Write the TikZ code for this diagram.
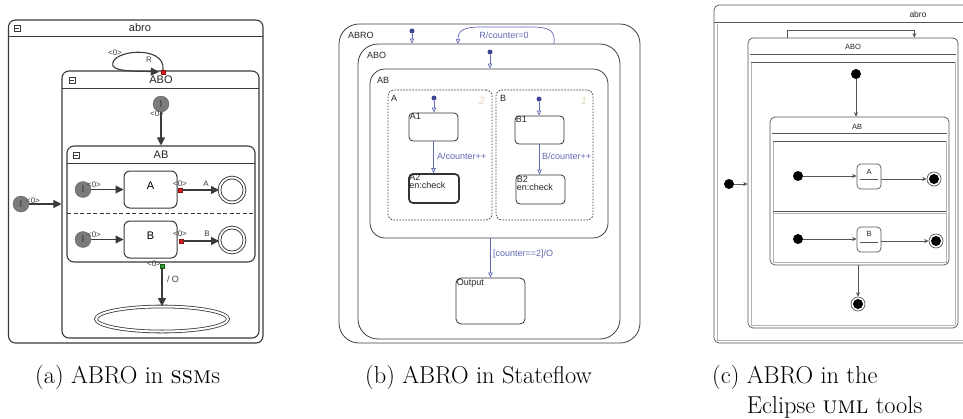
\documentclass[tikz,border=0pt]{standalone}
\usepackage{fontspec}
\newfontfamily\diagfont{Liberation Sans}
\usetikzlibrary{arrows.meta,fit,calc,shapes.geometric}

\definecolor{ssmline}{HTML}{3A3A3A}
\definecolor{ssmgray}{HTML}{7B7B7B}
\definecolor{ssmred}{HTML}{E41B1B}
\definecolor{ssmgreen}{HTML}{2CA02C}
\definecolor{sfline}{HTML}{404040}
\definecolor{sfblue}{HTML}{6169B3}
\definecolor{sfdotc}{HTML}{3F4595}
\definecolor{sfnum}{HTML}{E8DCC6}
\definecolor{umlline}{HTML}{555555}
\definecolor{umldot}{HTML}{B4B4B4}

\newcommand{\fsz}[1]{\fontsize{#1}{#1}\selectfont}

\tikzset{
  % SSM chart
  ssmbox/.style={draw=ssmline, line width=1.1pt, rounded corners=7pt, inner sep=0pt, fit={#1}},
  ssmrule/.style={draw=ssmline, line width=1pt},
  ssmtitle/.style={font=\diagfont\fsz{11}, text=black!85, inner sep=0pt},
  ssmsmall/.style={font=\diagfont\fsz{8}, text=black!75, inner sep=0pt},
  minusbox/.style={draw=ssmline, line width=0.5pt, minimum size=5.5pt, inner sep=0pt,
    path picture={\draw[line width=0.5pt] ([xshift=1.2pt]path picture bounding box.west) -- ([xshift=-1.2pt]path picture bounding box.east);}},
  ssminit/.style={circle, fill=ssmgray, draw=ssmgray!70!black, line width=0.3pt, minimum size=16pt, inner sep=0pt, font=\diagfont\fsz{10}, text=black!80},
  ssmstate/.style={draw=ssmline, line width=1pt, rounded corners=6pt, inner sep=0pt, fit={#1}, font=\diagfont\fsz{11}},
  ssmfinal/.style={circle, draw=ssmline, double, double distance=1.8pt, line width=0.9pt, minimum size=25pt, inner sep=0pt},
  ssmarr/.style={draw=ssmline, line width=1.1pt, -{Triangle[length=8pt,width=8pt]}},
  ssmport/.style={rectangle, draw=#1!60!black, fill=#1, line width=0.3pt, minimum size=4pt, inner sep=0pt},
  % Stateflow chart
  sfbox/.style={draw=sfline, line width=0.8pt, inner sep=0pt, fit={#1}},
  sfregion/.style={draw=black!80, line width=0.7pt, dash pattern=on 1.6pt off 1.4pt, rounded corners=6pt, inner sep=0pt, fit={#1}},
  sfstate/.style={draw=black!80, line width=0.8pt, rounded corners=4pt, inner sep=0pt, fit={#1}},
  sfname/.style={font=\diagfont\fsz{9}, text=black!85, inner sep=0pt, anchor=west},
  sfinner/.style={font=\diagfont\fsz{9}, text=black!85, inner sep=1pt, anchor=north west, align=left},
  sfarr/.style={draw=sfblue, line width=0.7pt, -{Triangle[open,length=5pt,width=4.5pt]}},
  sfdefault/.style={circle, fill=sfdotc, inner sep=0pt, minimum size=5pt},
  sflabel/.style={font=\diagfont\fsz{9}, text=sfblue, inner sep=0pt, anchor=west},
  sfnumber/.style={font=\diagfont\itshape\fsz{11}, text=sfnum, inner sep=0pt},
  % UML chart
  umlbox/.style={draw=umlline, line width=0.7pt, rounded corners=5pt, inner sep=0pt, fit={#1}},
  umlarea/.style={draw=umldot, line width=0.6pt, dash pattern=on 0.4pt off 0.4pt},
  umlrule/.style={draw=umlline, line width=0.7pt},
  umlname/.style={font=\diagfont\fsz{7.5}, text=black!85, inner sep=0pt},
  umlstate/.style={draw=umlline, line width=0.7pt, rounded corners=4pt, inner sep=0pt, fit={#1}},
  umlinit/.style={circle, fill=black, inner sep=0pt, minimum size=10pt},
  umlfinal/.style={circle, draw=umlline, line width=0.7pt, fill=white, inner sep=0pt, minimum size=14pt,
    path picture={\fill[black] (path picture bounding box.center) circle[radius=5pt];}},
  umlarr/.style={draw=umlline, line width=0.6pt, -{Stealth[length=4.5pt,width=4pt]}},
  % captions
  caption/.style={font=\fontsize{24.4}{30}\selectfont, inner sep=0pt, anchor=base west},
}

\begin{document}
\begin{tikzpicture}[x=1pt,y=-1pt]
\fill[white] (0,0) rectangle (963,418);
\useasboundingbox (0,0) rectangle (963,418);

% ================= (a) SSM =================
\node[ssmbox={(8.5,20)(263,343)}] (abro) {};
\draw[ssmrule] (8.5,36) -- (263,36);
\node[ssmtitle] (abroT) at (140,28) {abro};
\node[minusbox] (abroM) at (17,28) {};

\node[ssmbox={(62,71)(259,338)}] (abo) {};
\draw[ssmrule] (62,88) -- (259,88);
\node[ssmtitle] (aboT) at (161,80) {ABO};
\node[minusbox] (aboM) at (72,80) {};

\node[ssmbox={(67,146)(255,262)}] (ab) {};
\draw[ssmrule] (67,163) -- (255,163);
\node[ssmtitle] (abT) at (161,155) {AB};
\node[minusbox] (abM) at (76,155) {};
\draw[draw=ssmline, line width=0.9pt, dash pattern=on 4pt off 2.5pt] (67,213) -- (255,213);

% self loop R on ABO
\node[ssmport=ssmred] (rABO) at (163,72) {};
\draw[ssmarr] (rABO.north) .. controls (166,44) and (108,50) .. (113,66)
  .. controls (116,72) and (140,71) .. ([xshift=-2pt]rABO.west);
\node[ssmsmall] (lpl) at (115,53) {<0>};
\node[ssmsmall] (lpR) at (149,60) {R};

% initial of ABO
\node[ssminit] (i0) at (161,104) {I};
\node[ssmsmall] (i0l) at (157,114) {<0>};
\draw[ssmarr] (i0) -- (ab.north);

% outer initial
\node[ssminit] (iO) at (21,204) {I};
\node[ssmsmall] (iOl) at (33,201) {<0>};
\draw[ssmarr] (iO) -- (iO -| abo.west);

% region A
\node[ssminit] (iA) at (83,189.5) {I};
\node[ssmsmall] (iAl) at (94,185) {<0>};
\node[ssmstate={(124,171)(177,208)}] (sA) {A};
\draw[ssmarr] (iA) -- (sA.west);
\node[ssmfinal] (fA) at (232,190) {};
\node[ssmport=ssmred] (rA) at (180,190) {};
\node[ssmsmall] (rAl) at (180,184) {<0>};
\node[ssmsmall] (rAt) at (206,184) {A};
\draw[ssmarr] (rA.east) -- (fA.west);

% region B
\node[ssminit] (iB) at (83,239.5) {I};
\node[ssmsmall] (iBl) at (94,235) {<0>};
\node[ssmstate={(124,221)(177,258)}] (sB) {B};
\draw[ssmarr] (iB) -- (sB.west);
\node[ssmfinal] (fB) at (232,240) {};
\node[ssmport=ssmred] (rB) at (181,241) {};
\node[ssmsmall] (rBl) at (180,234) {<0>};
\node[ssmsmall] (rBt) at (207,234) {B};
\draw[ssmarr] (rB.east) -- (rB.east -| fB.west);

% termination
\node[ssmport=ssmgreen] (gAB) at (162,266) {};
\node[ssmsmall] (gABl) at (154,264) {<0>};
\node[ellipse, draw=ssmline, double, double distance=2pt, line width=0.8pt,
      minimum width=132pt, minimum height=25pt, inner sep=0pt] (fin) at (162,319) {};
\draw[ssmarr] (gAB.south) -- (fin.north);
\node[ssmsmall, font=\diagfont\fsz{9}] (gABt) at (173,279) {/ O};

% ================= (b) Stateflow =================
\node[sfbox={(339,24)(640,343)}, rounded corners=20pt] (ABRO) {};
\node[sfname] (ABROn) at (348,35) {ABRO};
\node[sfbox={(358,44)(620,339)}, rounded corners=20pt] (ABO) {};
\node[sfname] (ABOn) at (367,55) {ABO};
\node[sfbox={(370,69)(608,238)}, rounded corners=15pt] (AB) {};
\node[sfname] (ABn) at (377,80) {AB};

\node[sfregion={(388,90)(492,220)}] (RA) {};
\node[sfname] (RAn) at (391,98) {A};
\node[sfnumber] (RAk) at (482,101) {2};
\node[sfregion={(496,90)(593,220)}] (RB) {};
\node[sfname] (RBn) at (500,98) {B};
\node[sfnumber] (RBk) at (584,101) {1};

\node[sfstate={(409,113)(458,141)}] (A1) {};
\node[sfinner] at (A1.north west) {A1};
\node[sfstate={(409,174)(459,203)}, line width=1.7pt] (A2) {};
\node[sfinner] at (A2.north west) {A2\\[-1pt]en:check};
\node[sfstate={(515,116)(564,144)}] (B1) {};
\node[sfinner] at (B1.north west) {B1};
\node[sfstate={(516,175)(565,204)}] (B2) {};
\node[sfinner] at (B2.north west) {B2\\[-1pt]en:check};
\node[sfstate={(456,278)(525,324)}, rounded corners=5pt] (Out) {};
\node[sfinner] at (Out.north west) {Output};

% default transitions
\node[sfdefault] (dABRO) at (412,31) {};
\draw[sfarr] (dABRO) -- (dABRO |- ABO.north);
\node[sfdefault] (dABO) at (490,52) {};
\draw[sfarr] (dABO) -- (dABO |- AB.north);
\node[sfdefault] (dA) at (434,98) {};
\draw[sfarr] (dA) -- (dA |- A1.north);
\node[sfdefault] (dB) at (539,99) {};
\draw[sfarr] (dB) -- (dB |- B1.north);

% transitions
\draw[sfarr] (A1.south) -- (A1.south |- A2.north);
\node[sflabel] (tA) at (437,156) {A/counter++};
\draw[sfarr] (B1.south) -- (B1.south |- B2.north);
\node[sflabel] (tB) at (542,156) {B/counter++};
\draw[sfarr] (Out.north |- AB.south) -- (Out.north);
\node[sflabel] (tO) at (493,254) {[counter==2]/O};

\coordinate (rS) at (554,44);
\coordinate (rE) at (458,44);
\draw[sfarr] (rS) .. controls (556,30) and (548,27) .. (532,27) -- (480,27)
  .. controls (463,27) and (458,31) .. (rE);
\node[sflabel, anchor=center] (tR) at (504,35) {R/counter=0};

% ================= (c) UML =================
\node[umlbox={(714,5)(990,343)}] (uabro) {};
\draw[umlrule] (714,22) -- (990,22);
\draw[umlarea] (717,24) -- (717,340) -- (990,340);
\node[umlname, font=\diagfont\fsz{8.5}] (uabroT) at (918,14) {abro};

\node[umlbox={(748,38)(958,328)}] (uABO) {};
\node[umlname] (uABOT) at (853,47) {ABO};
\draw[umlrule] (750,54) -- (956,54);
\draw[umlarea] (751,62) rectangle (955,325);
\draw[umlrule] (751,62) -- (955,62);
\draw[umlarr] ([xshift=40pt]uABO.north west) |- ([xshift=-44pt,yshift=7pt]uABO.north east)
  -- ([xshift=-44pt]uABO.north east);

\node[umlinit] (uiABO) at (856,74) {};
\node[umlbox={(770,117)(949,265)}] (uAB) {};
\draw[umlarr] (uiABO) -- (uiABO |- uAB.north);
\node[umlname] (uABT) at (857,127) {AB};
\draw[umlrule] (772,133) -- (947,133);
\draw[umlarea] (773,141) rectangle (946,262);
\draw[umlrule] (773,141) -- (946,141);
\draw[umlrule] (773,211) -- (946,211);
\draw[umlarea] (773,213) -- (946,213);

% region A
\node[umlinit] (uiA) at (798,176) {};
\node[umlstate={(857,164)(881,189)}] (uA) {};
\node[umlname] (uAT) at (869,172) {A};
\draw[umlrule] (860,179.5) -- (878,179.5);
\node[umlfinal] (ufA) at (934,179) {};
\draw[umlarr] (uiA) -- (uiA -| uA.west);
\draw[umlarr] (uA.east |- ufA) -- (ufA.west);

% region B
\node[umlinit] (uiB) at (798,239) {};
\node[umlstate={(857,227)(881,252)}] (uB) {};
\node[umlname] (uBT) at (869,234) {B};
\draw[umlrule] (860,242.5) -- (878,242.5);
\node[umlfinal] (ufB) at (936,241) {};
\draw[umlarr] (uiB) -- (uiB -| uB.west);
\draw[umlarr] (uB.east |- ufB) -- (ufB.west);

% final of ABO and outer initial
\node[umlfinal] (ufABO) at (858,304) {};
\draw[umlarr] (ufABO |- uAB.south) -- (ufABO.north);
\node[umlinit] (uiO) at (729,184) {};
\draw[umlarr] (uiO) -- (uiO -| uABO.west);

% ================= captions =================
\node[caption] (capA) at (35,383) {(a) ABRO in \textsc{ssm}s};
\node[caption] (capB) at (365,383) {(b) ABRO in Stateflow};
\node[caption] (capC) at (712,383)
  {\begin{tabular}[t]{@{}l@{ }l@{}}(c) & ABRO in the\\ & Eclipse \textsc{uml} tools\end{tabular}};
\end{tikzpicture}
\end{document}
